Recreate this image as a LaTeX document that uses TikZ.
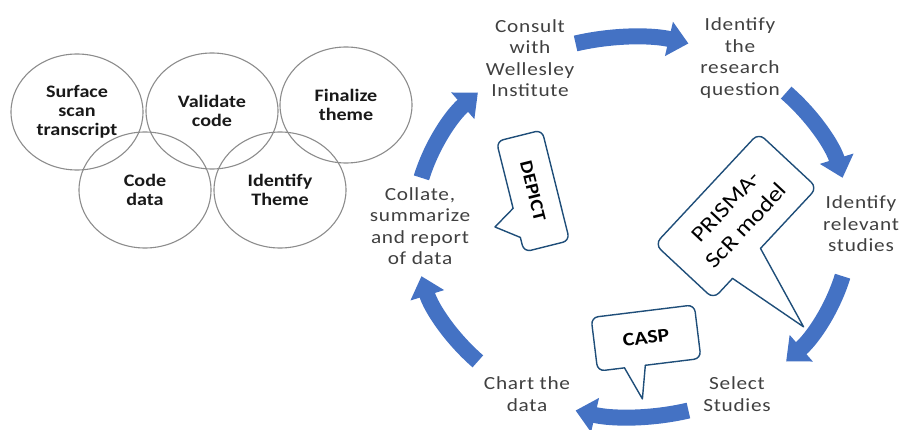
\documentclass[tikz,border=0pt]{standalone}
\usepackage{fontspec}
\setmainfont{Carlito}
\newfontfamily\cyf[FakeStretch=1.15,LetterSpace=4]{Carlito}
\newfontfamily\cf[FakeStretch=1.15]{Carlito}
\usetikzlibrary{arrows.meta,shapes.geometric}
\definecolor{arrblue}{HTML}{4472C4}
\definecolor{calblue}{HTML}{1F4E79}
\definecolor{txtgray}{HTML}{404040}
\definecolor{ringgray}{HTML}{8C8C8C}
\begin{document}
\begin{tikzpicture}[x=1pt,y=1pt,
  ring/.style={ellipse, draw=ringgray, line width=1.1pt, minimum width=132pt, minimum height=116pt, inner sep=0pt, align=center, font=\cf\bfseries\fontsize{17.5}{19}\selectfont, text=black!90},
  stage/.style={align=center, text=txtgray, font=\cyf\fontsize{18.5}{21.5}\selectfont},
  flow/.style={draw=arrblue, line width=16pt, -{Triangle[length=20pt,width=34pt]}},
  cbox/.style={draw=calblue, line width=1.4pt, line cap=round, line join=round},
  ]
\useasboundingbox (0,0) rectangle (901,429);

% left cluster of rings
\node[ring] (surface) at (77,317) {Surface\\scan\\transcript};
\node[ring] (validate) at (212,318) {Validate\\code};
\node[ring] (finalize) at (346,324) {Finalize\\theme};
\node[ring] (codedata) at (145,239) {Code\\data};
\node[ring] (idtheme) at (280,239) {Identify\\Theme};

% cycle stages
\node[stage] (consult) at (530,371) {Consult\\with\\Wellesley\\Institute};
\node[stage] (question) at (740,371) {Identify\\the\\research\\question};
\node[stage] (relevant) at (861,205) {Identify\\relevant\\studies};
\node[stage] (select) at (737,35) {Select\\Studies};
\node[stage] (chart) at (527,35) {Chart the\\data};
\node[stage] (collate) at (420,203) {Collate,\\summarize\\and report\\of data};

% cycle arrows
\coordinate (C) at (632,202);
\foreach \a in {105,45,-15,-75,-135,165}{
  \pgfmathsetmacro{\b}{\a-30}
  \draw[flow] ([shift={(\a:218pt and 190pt)}]C) arc[start angle=\a, end angle=\b, x radius=218pt, y radius=190pt];
}

% DEPICT callout
\node[font=\cf\bfseries\fontsize{18}{20}\selectfont, rotate=-76] (depict) at (533,238) {DEPICT};
\begin{scope}[shift={(depict.center)}, rotate=14]
  \draw[cbox, rounded corners=7pt] (-23.5,-12) -- (-23.5,57) -- (23.5,57) -- (23.5,-57) -- (-23.5,-57) -- (-23.5,-42);
  \draw[cbox] (-23.5,-12) -- (-45.6,-25.7) -- (-23.5,-42);
\end{scope}

% PRISMA callout
\node[font=\cf\fontsize{22}{28}\selectfont, rotate=47, align=center] (prisma) at (736,213) {PRISMA-\\ScR model};
\begin{scope}[shift={(prisma.center)}, rotate=47]
  \draw[cbox, rounded corners=8pt] (-7,-40) -- (76,-40) -- (76,40) -- (-76,40) -- (-76,-40) -- (-48,-40);
  \draw[cbox] (-48,-40) -- (-35,-125) -- (-7,-40);
\end{scope}

% CASP callout
\node[font=\cf\bfseries\fontsize{19}{21}\selectfont, rotate=7] (casp) at (646,91) {CASP};
\begin{scope}[shift={(casp.center)}, rotate=7]
  \draw[cbox, rounded corners=7pt] (-4,-27) -- (52,-27) -- (52,27) -- (-52,27) -- (-52,-27) -- (-25,-27);
  \draw[cbox] (-25,-27) -- (-11,-60) -- (-4,-27);
\end{scope}
\end{tikzpicture}
\end{document}
